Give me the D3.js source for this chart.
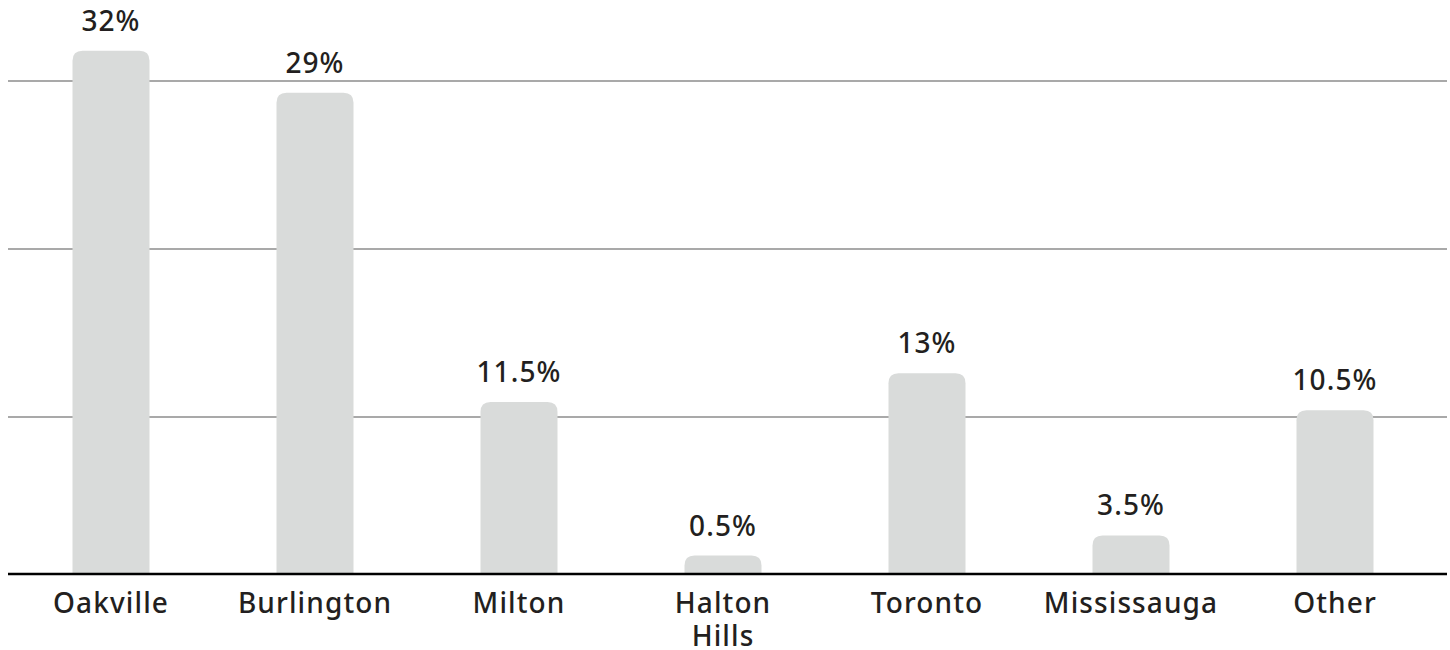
<!DOCTYPE html>
<html>
<head>
<meta charset="utf-8">
<script src="https://cdn.jsdelivr.net/npm/d3@7"></script>
<style>
  html, body { margin: 0; padding: 0; background: #fff; }
  svg { display: block; }
  text { font-family: "Noto Sans", sans-serif; fill: #231f20; font-weight: 500; }
</style>
</head>
<body>
<svg id="chart" width="1450" height="650"></svg>
<script>
// Data
const categories = ["Oakville", "Burlington", "Milton", "Halton Hills", "Toronto", "Mississauga", "Other"];
const values = [31.8, 29.3, 10.9, 1.75, 12.6, 2.95, 10.4];   // bar heights
const valueLabels = ["32%", "29%", "11.5%", "0.5%", "13%", "3.5%", "10.5%"];
const gridTicks = [10, 20, 30];

const svg = d3.select("#chart");
const baseY = 574;
const FS = 28, LS = 1.1;

const x = d3.scaleBand()
  .domain(categories)
  .range([9, 1437])
  .paddingInner(0.6225)
  .paddingOuter(0.31125);

const y = d3.scaleLinear().domain([0, 30]).range([585, 81]);

// gridlines
svg.append("g")
  .selectAll("line")
  .data(gridTicks)
  .join("line")
  .attr("x1", 8).attr("x2", 1447)
  .attr("y1", d => y(d)).attr("y2", d => y(d))
  .attr("stroke", "#8c8c8c")
  .attr("stroke-width", 1.6);

// bars with rounded tops
const r = 10;
function barPath(d, i) {
  const x0 = x(categories[i]), w = x.bandwidth();
  const top = y(d), bottom = baseY;
  const rr = Math.min(r, (bottom - top));
  return `M${x0},${bottom}V${top + rr}Q${x0},${top} ${x0 + rr},${top}H${x0 + w - rr}Q${x0 + w},${top} ${x0 + w},${top + rr}V${bottom}Z`;
}
svg.append("g")
  .selectAll("path")
  .data(values)
  .join("path")
  .attr("d", barPath)
  .attr("fill", "#d9dbda");

// value labels
svg.append("g")
  .selectAll("text")
  .data(values)
  .join("text")
  .attr("x", (d, i) => x(categories[i]) + x.bandwidth() / 2)
  .attr("y", d => y(d) - 20)
  .attr("text-anchor", "middle")
  .attr("font-size", FS)
  .attr("letter-spacing", LS)
  .text((d, i) => valueLabels[i]);

// baseline
svg.append("line")
  .attr("x1", 8).attr("x2", 1447)
  .attr("y1", baseY).attr("y2", baseY)
  .attr("stroke", "#000")
  .attr("stroke-width", 2.6);

// category labels (x axis)
const xAxis = d3.axisBottom(x).tickSize(0).tickPadding(0);
const gx = svg.append("g").attr("transform", `translate(0,${baseY})`).call(xAxis);
gx.select(".domain").remove();
gx.selectAll(".tick text").remove();
gx.selectAll(".tick").each(function(d) {
  const words = d === "Halton Hills" ? ["Halton", "Hills"] : [d];
  const t = d3.select(this).append("text")
    .attr("text-anchor", "middle")
    .attr("font-size", FS)
    .attr("letter-spacing", LS)
    .style("fill", "#231f20")
    .style("font-family", '"Noto Sans", sans-serif')
    .style("font-weight", 500);
  words.forEach((w, k) => {
    t.append("tspan").attr("x", 0).attr("y", 39 + k * 33).text(w);
  });
});
</script>
</body>
</html>
